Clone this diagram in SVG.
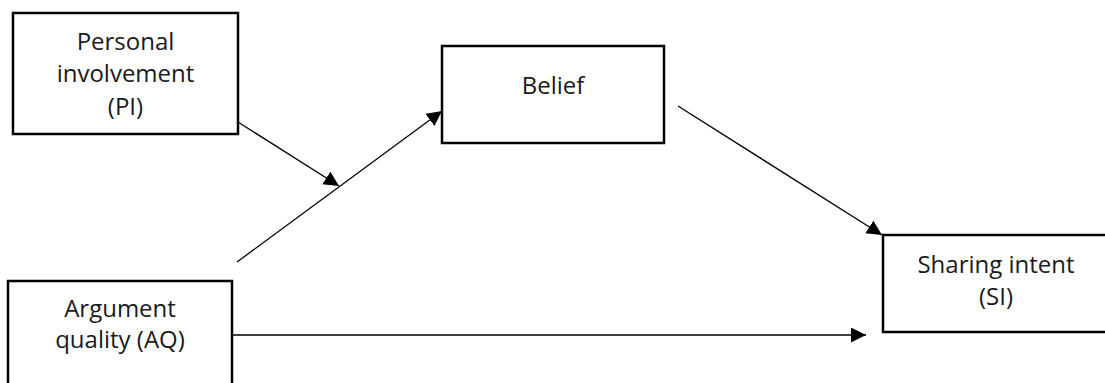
<svg xmlns="http://www.w3.org/2000/svg" width="1105" height="383" viewBox="0 0 1105 383">
  <defs>
    <marker id="arrow" markerUnits="userSpaceOnUse" markerWidth="16" markerHeight="16" viewBox="0 0 16 16" refX="15" refY="7.5" orient="auto">
      <path d="M0,0 L15,7.5 L0,15 Z" fill="#000"/>
    </marker>
    <style>
      .box { fill: #fff; stroke: #000; stroke-width: 2.5; }
      .label { font-family: "Open Sans", "Liberation Sans", sans-serif; font-size: 24px; fill: #1a1a1a; text-anchor: middle; }
      .edge { fill: none; stroke: #000; stroke-width: 1.3; marker-end: url(#arrow); }
    </style>
  </defs>
  <rect width="1105" height="383" fill="#fff"/>

  <g id="node-pi">
    <rect class="box" x="13" y="13" width="225" height="121"/>
    <text class="label" x="125.5" y="50">Personal</text>
    <text class="label" x="125.5" y="82">involvement</text>
    <text class="label" x="125.5" y="115">(PI)</text>
  </g>

  <g id="node-belief">
    <rect class="box" x="442" y="46" width="222" height="97"/>
    <text class="label" x="553" y="94">Belief</text>
  </g>

  <g id="node-aq">
    <rect class="box" x="8" y="281" width="224" height="120"/>
    <text class="label" x="120" y="317">Argument</text>
    <text class="label" x="120" y="348">quality (AQ)</text>
  </g>

  <g id="node-si">
    <rect class="box" x="883" y="235" width="230" height="97"/>
    <text class="label" x="996" y="273">Sharing intent</text>
    <text class="label" x="996" y="305">(SI)</text>
  </g>

  <g id="connectors">
    <line class="edge" x1="238" y1="122" x2="339" y2="186"/>
    <line class="edge" x1="237" y1="262" x2="442" y2="111"/>
    <line class="edge" x1="678" y1="106" x2="882" y2="235"/>
    <line class="edge" x1="232" y1="335" x2="866" y2="335"/>
  </g>
</svg>
